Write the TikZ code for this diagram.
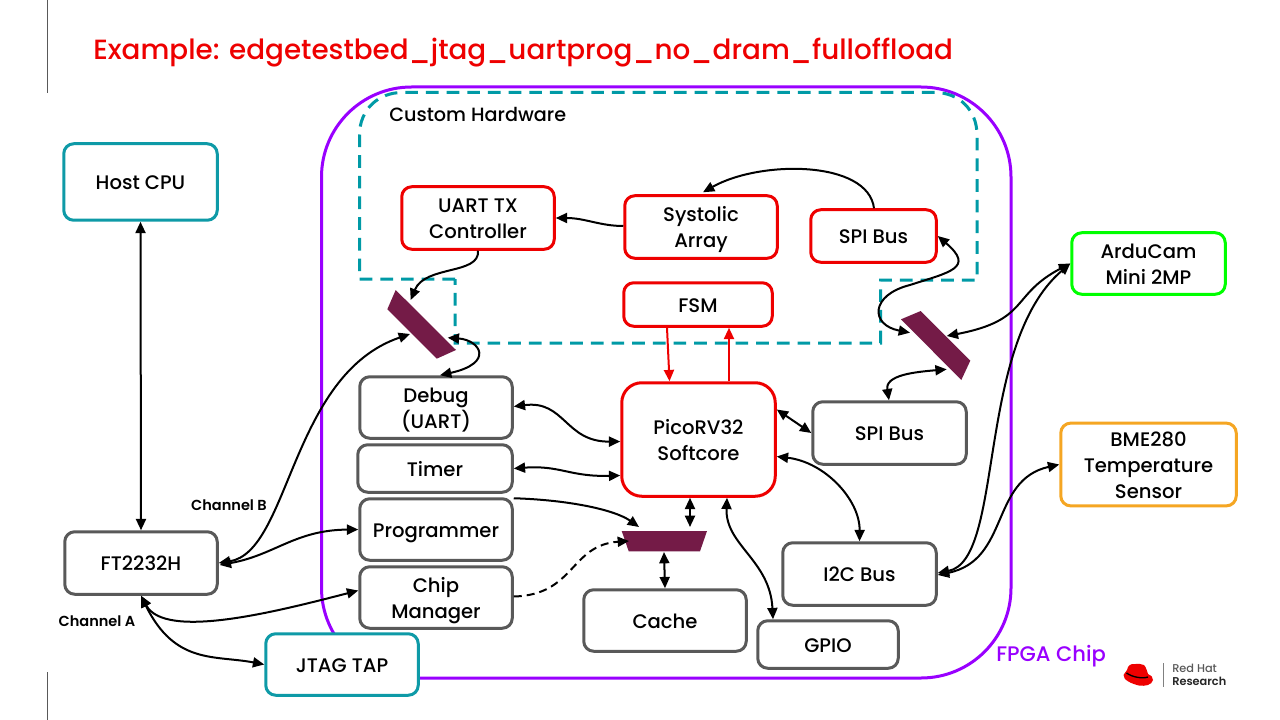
\documentclass[tikz,border=0pt]{standalone}
\usepackage{fontspec}
\setmainfont{Poppins Medium}[BoldFont=Poppins SemiBold]
\usetikzlibrary{arrows.meta,calc}
\definecolor{tealc}{HTML}{0E9AA7}
\definecolor{dashc}{HTML}{009AA6}
\definecolor{redc}{HTML}{EE0000}
\definecolor{grayc}{HTML}{595959}
\definecolor{greenc}{HTML}{00FF00}
\definecolor{orangec}{HTML}{F5A623}
\definecolor{purplec}{HTML}{9900FF}
\definecolor{muxc}{HTML}{741B47}
\newcommand{\bx}[7][]{%
  \pgfmathsetmacro{\cxv}{(#3+#5)/2}\pgfmathsetmacro{\cyv}{(#4+#6)/2}%
  \pgfmathsetmacro{\wv}{(#5-#3-1.5)*0.75}\pgfmathsetmacro{\hv}{(#6-#4-1.5)*0.75}%
  \node[boxn,#1,minimum width=\wv pt,minimum height=\hv pt] (#2) at (\cxv,\cyv) {\begin{tabular}{@{}c@{}}\noalign{\vskip 3.6pt}#7\end{tabular}};}
\tikzset{
  boxn/.style={draw,fill=white,rounded corners=7.5pt,line width=2.25pt,inner sep=0pt,
    font=\fontsize{14.7}{19.5}\selectfont,text=black},
  grayb/.style={draw=grayc},
  redb/.style={draw=redc},
  tealb/.style={draw=tealc},
  dbl/.style={line width=1.5pt,black,{Triangle[length=8.5pt,width=7.5pt]}-{Triangle[length=8.5pt,width=7.5pt]}},
  sgl/.style={line width=1.5pt,black,-{Triangle[length=8.5pt,width=7.5pt]}},
  redarr/.style={line width=1.5pt,redc,-{Triangle[length=8.5pt,width=7.5pt]}},
  lab/.style={inner sep=0pt,font=\fontsize{10.9}{13}\selectfont\bfseries,text=black},
}
\begin{document}
\begin{tikzpicture}[x=0.75pt,y=-0.75pt]
\useasboundingbox (0,0) rectangle (1280,720);
\fill[white] (0,0) rectangle (1280,720);
\draw[line width=0.75pt,grayc] (47.5,0) -- (47.5,93);
\draw[line width=0.75pt,grayc] (47.5,672) -- (47.5,720);
\node[anchor=base west,inner sep=0pt,text=redc,font=\fontsize{20.85}{28}\selectfont] (title) at (93,60) {Example: edgetestbed\_jtag\_uartprog\_no\_dram\_fulloffload};
% FPGA outline
\draw[purplec,line width=2.25pt,rounded corners=67.5pt] (321.5,87) rectangle (1011,678);
% Custom hardware
\draw[dashc,line width=2.25pt,dash pattern=on 9.5pt off 6pt]
  (455,279) -- (359.5,279) -- (359.5,135) .. controls (359.5,110) and (378,92.5) .. (402,92.5) -- (935,92.5) .. controls (959,92.5) and (977,110) .. (977,135) -- (977,280) -- (880.5,280) -- (880.5,343) -- (455,343) -- cycle;
\node[anchor=west,inner sep=0pt,font=\fontsize{14.4}{17}\selectfont] (chw) at (389,114) {Custom Hardware};
\node[anchor=west,inner sep=0pt,text=purplec,font=\fontsize{15.8}{18}\selectfont] (fpga) at (996,656) {FPGA Chip};
% Boxes
\bx[tealb]{host}{63}{143}{218}{221}{Host CPU}
\bx[redb]{uart}{401}{186}{555}{250}{UART TX\\Controller}
\bx[redb]{sys}{624}{195}{778}{259}{Systolic\\Array}
\bx[redb]{spir}{810}{209}{937}{263}{SPI Bus}
\bx[redb]{fsm}{623}{282}{773}{327}{FSM}
\bx[draw=greenc]{ardu}{1071}{232}{1226}{295}{ArduCam\\Mini 2MP}
\bx[draw=orangec]{bme}{1060}{424}{1237}{505}{BME280\\Temperature\\Sensor}
\bx[grayb]{debug}{359}{376}{513}{439}{Debug\\(UART)}
\bx[grayb]{timer}{357}{444}{513}{493}{Timer}
\bx[grayb]{prog}{359}{498}{513}{561}{Programmer}
\bx[grayb]{chip}{359}{566}{513}{629}{Chip\\Manager}
\bx[redb,rounded corners=15pt]{pico}{621}{382}{776}{497}{PicoRV32\\Softcore}
\bx[grayb]{spig}{812}{401}{967}{465}{SPI Bus}
\bx[grayb]{i2c}{782}{542}{937}{606}{I2C Bus}
\bx[grayb]{cache}{583}{589}{747}{652}{Cache}
\bx[grayb]{gpio}{757}{620}{899}{669}{GPIO}
\bx[grayb]{ft}{64}{531}{218}{595}{FT2232H}
\bx[tealb]{jtag}{265}{633}{419}{696}{JTAG TAP}
\node[lab] (chb) at (229,505) {Channel B};
\node[lab] (cha) at (97,621) {Channel A};
% Muxes
\fill[muxc] (395.7,290) -- (387.3,309.3) -- (436.7,358.7) -- (456,350) -- cycle;
\fill[muxc] (920.7,311) -- (901,319.3) -- (961.3,380) -- (970.3,360.7) -- cycle;
\fill[muxc] (621.7,531) -- (707,531) -- (700,551.3) -- (628.7,551.3) -- cycle;
\coordinate (mlL) at (410,334);
\coordinate (mlT) at (410.7,300);
\coordinate (mlR) at (447.7,337.7);
\coordinate (mrTL) at (910,332.7);
\coordinate (mrR) at (946.7,336);
\coordinate (mrB) at (946.7,369.3);
\coordinate (mbTL) at (639,527);
\coordinate (mbL) at (629,541);
\coordinate (mbT) at (690,527);
\coordinate (mbB) at (664,552);
% Connectors
\draw[dbl] (host.south) -- (ft.north);
\draw[dbl] (ft.east) .. controls (290,552) and (290,375) .. (mlL);
\draw[dbl] ($(ft.east)+(1,2)$) .. controls (275,555) and (295,530) .. (prog.west);
\draw[dbl] (ft.south) .. controls (165,640) and (275,612) .. ($(chip.west)+(0,-7)$);
\draw[dbl] (ft.south) .. controls (175,665) and (215,655) .. ($(jtag.west)+(0,0)$);
\draw[sgl] ($(uart.south)+(0,0)$) .. controls (480,275) and (425,265) .. (mlT);
\draw[dbl] (mlR) .. controls (480,340) and (495,363) .. ($(debug.north)+(4,0)$);
\draw[sgl] ($(sys.west)+(0,-1)$) .. controls (600,226) and (585,218) .. ($(uart.east)$);
\draw[sgl] ($(spir.north)+(0.5,0)$) .. controls (868,160) and (760,160) .. ($(sys.north)+(2,-2)$);
\draw[redarr] ($(fsm.south)+(-31,0)$) -- ($(pico.north)+(-29,0)$);
\draw[redarr] ($(pico.north)+(30.5,0)$) -- ($(fsm.south)+(31,0)$);
\draw[dbl] ($(debug.east)+(0,-1)$) .. controls (565,400) and (565,442) .. ($(pico.west)+(0,2)$);
\draw[dbl] ($(timer.east)$) .. controls (560,465) and (570,477) .. ($(pico.west)+(0,36)$);
\draw[sgl] ($(prog.north east)+(0,1)$) .. controls (570,500) and (615,510) .. (mbTL);
\draw[line width=1.5pt,black,dash pattern=on 6pt off 3.75pt,-{Triangle[length=8.5pt,width=7.5pt]}] ($(chip.east)+(0,-1)$) .. controls (575,595) and (570,545) .. (mbL);
\draw[dbl] ($(pico.south)+(-8.5,0)$) -- (mbT);
\draw[dbl] (mbB) -- (cache.north);
\draw[dbl] ($(pico.south)+(28.5,0)$) .. controls (725,545) and (770,560) .. ($(gpio.north)+(-55,0)$);
\draw[dbl] ($(pico.east)+(0,-30)$) -- (spig.west);
\draw[dbl] ($(pico.east)+(0,17)$) .. controls (825,462) and (860,500) .. ($(i2c.north)+(0,0)$);
\draw[dbl] ($(spig.north)+(-0.5,0)$) .. controls (885,375) and (915,372) .. (mrB);
\draw[dbl] (mrTL) .. controls (870,325) and (870,295) .. (910,285) .. controls (950,272) and (975,268) .. ($(spir.east)$);
\draw[dbl] (mrR) .. controls (1030,320) and (1010,295) .. ($(ardu.west)$);
\draw[dbl] ($(i2c.east)+(0,-1)$) .. controls (1005,560) and (975,345) .. ($(ardu.west)$);
\draw[dbl] ($(i2c.east)+(0,1)$) .. controls (1010,560) and (990,480) .. ($(bme.west)$);
% Logo
\fill[redc] (1127,670) .. controls (1128,665) and (1131,663.5) .. (1135,664) .. controls (1138,664.5) and (1141,663) .. (1144,665) .. controls (1146,667) and (1147,671) .. (1148,674) .. controls (1151,675) and (1153,677) .. (1153,680) .. controls (1152,685) and (1145,686.5) .. (1139,685.5) .. controls (1132,684) and (1123,680) .. (1123.5,675) .. controls (1124,673) and (1126,672.5) .. (1127,670) -- cycle;
\draw[black,line width=1pt] (1126.5,673) .. controls (1132,677) and (1142,679) .. (1148,677);
\draw[gray,line width=0.75pt] (1163,663) -- (1163,687);
\node[anchor=west,inner sep=0pt,text=grayc,font=\fontsize{8.5}{10}\selectfont] (rh) at (1172,668.5) {Red Hat};
\node[anchor=west,inner sep=0pt,text=black!85,font=\fontsize{8.5}{10}\selectfont\bfseries] (rs) at (1172,681) {Research};
\end{tikzpicture}
\end{document}
